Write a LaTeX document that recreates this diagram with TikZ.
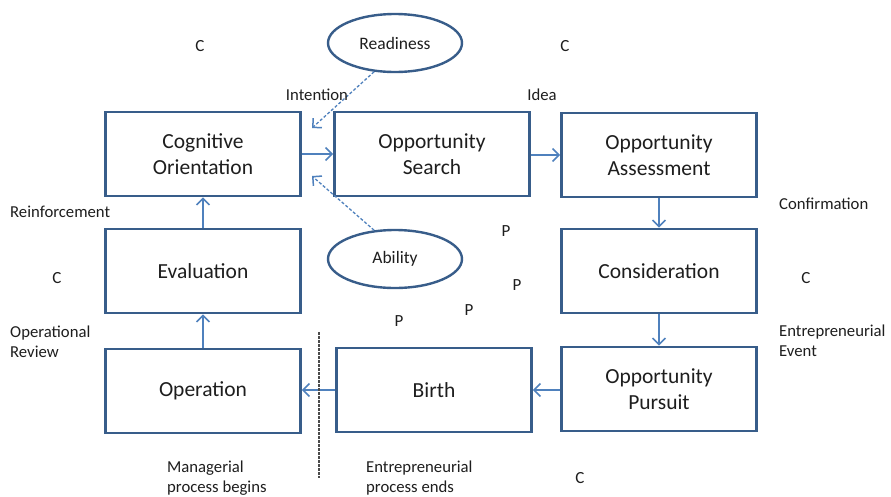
\documentclass[tikz,border=0pt]{standalone}
\usepackage{fontspec}
\setmainfont{Carlito}
\usetikzlibrary{arrows.meta,shapes.geometric}
\definecolor{boxline}{HTML}{385D8A}
\definecolor{flow}{HTML}{4F81BD}
\definecolor{ink}{HTML}{1E1E1E}
\tikzset{
  stage/.style={draw=boxline, line width=2.8pt, fill=white, minimum width=195pt,
    minimum height=84pt, align=center, text=ink,
    font=\fontsize{21.5}{26}\selectfont},
  factor/.style={ellipse, draw=boxline, line width=2.4pt, fill=white,
    minimum width=134pt, minimum height=58pt, inner sep=0pt, text=ink,
    font=\fontsize{17.5}{20}\selectfont},
  note/.style={text=ink, align=left, inner sep=0pt,
    font=\fontsize{16.7}{20}\selectfont},
  letter/.style={text=ink, inner sep=0pt, font=\fontsize{17}{20}\selectfont},
  flowarrow/.style={draw=flow, line width=1.6pt,
    -{Straight Barb[length=6.5pt,width=13pt,line width=1.5pt]}},
  influence/.style={flowarrow, dash pattern=on 3pt off 2pt, line width=1.3pt}
}
\begin{document}
\begin{tikzpicture}[x=1pt,y=-1pt]
\useasboundingbox (0,0) rectangle (891,496);
\fill[white] (0,0) rectangle (891,496);

% process stages
\node[stage] (cog)    at (203,154) {Cognitive\\Orientation};
\node[stage] (search) at (432,154) {Opportunity\\Search};
\node[stage] (assess) at (659,155) {Opportunity\\Assessment};
\node[stage] (eval)   at (203,271) {Evaluation};
\node[stage] (consid) at (659,271) {Consideration};
\node[stage] (oper)   at (203,391) {Operation};
\node[stage] (birth)  at (434,390) {Birth};
\node[stage] (pursue) at (659,389) {Opportunity\\Pursuit};

% personal factors
\node[factor] (ready)   at (395,43)  {Readiness};
\node[factor] (ability) at (395,259) {Ability};

% flow between stages
\draw[flowarrow] (cog.east |- 0,154) -- (search.west |- 0,154);
\draw[flowarrow] (search.east |- 0,155) -- (assess.west |- 0,155);
\draw[flowarrow] (assess.south) -- (consid.north);
\draw[flowarrow] (consid.south) -- (pursue.north);
\draw[flowarrow] (pursue.west |- 0,390) -- (birth.east |- 0,390);
\draw[flowarrow] (birth.west |- 0,390) -- (oper.east |- 0,390);
\draw[flowarrow] (oper.north) -- (eval.south);
\draw[flowarrow] (eval.north) -- (cog.south);

% influences on cognitive orientation
\coordinate (intentTip) at (312,128);
\coordinate (abilityTip) at (312,176);
\draw[influence] (ready.234) -- (intentTip);
\draw[influence] (ability.126) -- (abilityTip);

% boundary between entrepreneurial and managerial processes
\draw[ink!80, line width=1.1pt, dash pattern=on 2.5pt off 1.5pt] (319,332) -- (319,478);

% stage transition labels
\node[note] (intention) at (317,95) {Intention};
\node[note] (idea)      at (542,95) {Idea};
\node[note, anchor=west] (reinf)   at (10,212)  {Reinforcement};
\node[note, anchor=west] (confirm) at (779,204) {Confirmation};
\node[note, anchor=west] (review)  at (10,342)  {Operational\\Review};
\node[note, anchor=west] (event)   at (779,341) {Entrepreneurial\\Event};
\node[note, anchor=west] (mbegin)  at (167,478) {Managerial\\process begins};
\node[note, anchor=west] (eends)   at (366,478) {Entrepreneurial\\process ends};

% context and person markers
\node[letter] (c1) at (200,46)  {C};
\node[letter] (c2) at (565,46)  {C};
\node[letter] (c3) at (57,278)  {C};
\node[letter] (c4) at (806,278) {C};
\node[letter] (c5) at (580,478) {C};
\node[letter] (p1) at (506,231) {P};
\node[letter] (p2) at (517,285) {P};
\node[letter] (p3) at (469,310) {P};
\node[letter] (p4) at (399,321) {P};
\end{tikzpicture}
\end{document}
